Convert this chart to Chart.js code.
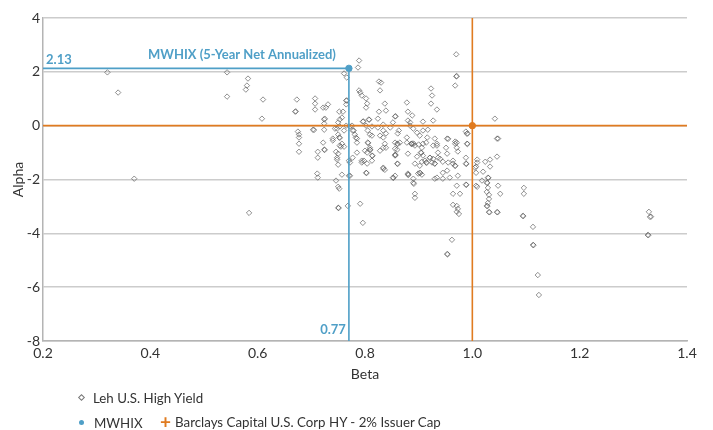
<!DOCTYPE html>
<html>
<head>
<meta charset="utf-8">
<script src="https://cdn.jsdelivr.net/npm/chart.js@4.4.0/dist/chart.umd.min.js"></script>
<style>
  body { margin: 0; background: #fff; font-family: Lato, "Open Sans", sans-serif; }
  #wrap { position: relative; width: 713px; height: 430px; }
  .legend { position: absolute; font-size: 13.3px; color: #333; white-space: nowrap; }
  .legend span { vertical-align: middle; }
  .diamond { display: inline-block; width: 3px; height: 3px; border: 1px solid #777; transform: rotate(45deg); margin-right: 9px; }
  .dot { display: inline-block; width: 5px; height: 5px; border-radius: 50%; background: #4f9fc7; margin-right: 10px; }
  .plus { color: #e07b20; font-size: 19px; font-weight: bold; margin-right: 4px; }
</style>
</head>
<body>
<div id="wrap">
  <canvas id="riskChart" width="713" height="430"></canvas>
  <div class="legend" style="left:79px; top:388px;"><span class="diamond"></span><span>Leh U.S. High Yield</span></div>
  <div class="legend" style="left:79px; top:413px;"><span class="dot"></span><span>MWHIX</span></div>
  <div class="legend" style="left:160px; top:410px;"><span class="plus">+</span><span>Barclays Capital U.S. Corp HY - 2% Issuer Cap</span></div>
</div>
<script>
// peer funds, [beta, alpha]
const hyPoints = [
  [0.32,1.98],[0.34,1.23],[0.37,-1.97],[0.543,1.98],[0.543,1.08],[0.582,1.75],[0.580,1.49],[0.578,1.34],[0.610,0.97],[0.608,0.26],[0.584,-3.24],
  [0.673,0.97],[0.670,0.52],[0.671,0.53],[0.675,-0.22],[0.677,-0.33],[0.677,-0.44],[0.677,-0.67],[0.677,-0.97],
  [0.707,1.01],[0.707,0.82],[0.707,0.60],[0.703,-0.15],[0.705,-0.16],[0.722,0.67],[0.727,0.67],[0.731,0.79],[0.725,0.26],[0.724,0.08],[0.724,-0.15],[0.722,-0.63],[0.724,-0.89],[0.725,-0.90],[0.712,-0.97],[0.712,-1.19],
  [0.740,-0.55],[0.746,-0.97],[0.748,-1.19],[0.750,-1.45],[0.757,-1.82],[0.772,-1.86],[0.772,-1.37],[0.711,-1.78],[0.712,-1.93],[0.746,-2.04],[0.750,-2.27],[0.752,-2.34],
  [0.752,0.52],[0.757,0.30],[0.765,0.93],[0.766,0.94],[0.765,0.79],[0.761,1.94],[0.766,1.79],[0.765,0.0],[0.753,-0.03],[0.748,-0.11],[0.750,-0.33],[0.752,-0.44],[0.753,-0.45],[0.757,-0.67],[0.755,-0.78],[0.761,-0.78],[0.770,-1.30],
  [0.776,0.0],[0.777,-0.18],[0.783,-0.44],[0.785,-1.0],[0.789,2.42],[0.787,2.16],[0.789,1.31],[0.791,1.23],[0.794,1.12],[0.802,1.01],[0.804,0.82],[0.802,0.67],
  [0.826,1.64],[0.830,1.60],[0.828,1.31],[0.837,0.82],[0.839,0.56],[0.826,0.52],[0.824,0.26],[0.834,0.04],[0.759,0.52],[0.753,0.23],[0.750,0.12],[0.724,0.23],[0.744,-0.11],[0.761,-0.18],[0.772,-0.03],
  [0.796,0.15],[0.797,0.16],[0.807,0.23],[0.808,0.22],[0.802,0.0],[0.813,-0.03],[0.824,-0.07],[0.805,-0.18],[0.740,-0.48],[0.781,-0.33],[0.785,-0.48],[0.809,-0.33],[0.828,-0.37],[0.834,-0.18],[0.839,-0.29],
  [0.856,0.34],[0.857,0.35],[0.852,0.12],[0.847,-0.07],[0.863,-0.18],[0.861,-0.29],[0.878,0.86],[0.880,0.52],[0.888,0.38],[0.884,0.12],[0.880,0.19],[0.884,0.0],[0.890,-0.11],[0.897,-0.26],[0.908,-0.18],[0.917,-0.15],[0.908,0.15],[0.927,0.19],[0.902,-0.37],
  [0.923,1.38],[0.925,1.12],[0.923,0.82],[0.934,0.60],[0.930,-0.48],[0.953,-0.48],[0.955,-0.49],[0.970,2.65],[0.970,1.83],[0.971,1.84],[0.968,1.49],[0.988,-0.22],[0.990,-0.30],[0.991,-0.29],
  [1.042,0.26],[1.046,-0.48],[1.048,-0.48],[1.046,-1.15],[0.990,-0.67],[0.991,-0.68],[0.988,-1.41],[0.989,-1.42],[0.988,-1.19],[0.971,-0.82],[0.968,-0.59],[0.973,-0.96],[0.964,-1.41],[0.968,-1.49],
  [0.951,-0.82],[0.953,-1.04],[0.945,-1.34],[0.936,-1.19],[0.930,-1.41],[0.921,-1.19],[0.914,-1.37],[0.915,-1.38],[0.906,-1.34],[0.902,-1.49],[0.902,-1.75],[0.903,-1.76],[0.906,-1.82],[0.893,-1.41],[0.897,-1.15],[0.904,-1.0],[0.905,-1.01],[0.906,-0.82],[0.900,-0.70],[0.908,-0.67],[0.914,-0.63],[0.916,-0.44],
  [0.886,-0.67],[0.887,-0.68],[0.891,-0.67],[0.880,-1.04],[0.878,-0.44],[0.934,-0.74],[0.936,-1.0],[0.865,-0.63],[0.860,-0.67],[0.861,-0.68],[0.860,-0.89],[0.856,-1.08],[0.857,-1.09],[0.860,-1.41],[0.861,-1.42],[0.852,-1.93],[0.853,-1.94],[0.856,-1.86],
  [0.834,-1.56],[0.837,-1.64],[0.834,-0.82],[0.837,-0.67],[0.834,-0.44],[0.813,-0.37],[0.809,-0.82],[0.813,-1.11],[0.814,-1.12],[0.804,-1.0],[0.798,-1.30],[0.794,-1.37],[0.813,-1.30],[0.802,-1.75],[0.803,-1.76],[0.779,-0.18],[0.777,-1.19],[0.770,-1.86],
  [0.880,-1.82],[0.881,-1.83],[0.890,-1.97],[0.891,-2.16],[0.893,-2.53],[0.893,-2.68],[0.930,-1.97],[0.934,-1.93],[0.945,-1.97],[0.958,-1.93],[0.971,-2.23],[0.964,-2.53],[0.977,-2.53],[0.988,-2.19],[0.989,-2.20],
  [1.009,-1.26],[1.007,-1.52],[1.007,-2.23],[1.020,-1.71],[1.024,-1.34],[1.033,-1.26],[1.033,-1.52],[1.029,-1.93],[1.030,-1.94],[1.027,-2.12],[1.028,-2.13],[1.029,-2.31],[1.027,-2.46],[1.031,-2.57],[1.031,-2.72],[1.029,-2.87],[1.027,-2.98],[1.028,-2.99],[1.031,-3.21],[1.032,-3.22],[1.046,-3.21],[1.047,-3.22],[1.048,-2.23],[1.052,-2.53],[1.018,-2.04],[1.009,-2.27],[1.005,-1.56],[1.009,-1.37],[1.007,-1.75],
  [1.096,-2.31],[1.096,-2.53],[1.094,-3.35],[1.095,-3.36],[1.113,-3.76],[1.113,-4.43],[1.114,-4.44],[1.122,-5.55],[1.124,-6.29],
  [0.768,-2.98],[0.750,-3.05],[0.751,-3.06],[0.791,-2.90],[0.796,-3.61],[0.964,-2.94],[0.971,-2.98],[0.973,-3.09],[0.971,-3.20],[0.975,-3.28],[0.962,-4.24],[0.953,-4.77],[0.954,-4.78],
  [1.329,-3.20],[1.331,-3.39],[1.333,-3.38],[1.327,-4.06],[1.328,-4.07],
  [0.856,-0.63],[0.856,-0.86],[0.856,-1.11],[0.878,-0.63],[0.888,-0.67],[0.893,-0.74],[0.927,-0.74],[0.934,-0.67],[0.968,-0.67],[0.971,-0.63],[0.940,-1.23],[0.927,-1.23],[0.921,-1.19],[0.925,-1.37],[0.930,-1.41],[0.908,-1.11],[0.912,-1.30],[0.899,-1.78],[0.968,-1.49],[0.964,-1.30],[0.955,-1.37],[0.953,-1.67],[0.945,-1.75],[0.880,-1.78],[0.890,-2.12],[0.973,-1.86],
  [0.753,-0.74],[0.750,-1.04],[0.748,-1.26],[0.805,-0.63],[0.806,-0.64],[0.785,-0.63],[0.809,-0.89],[0.810,-0.90],[0.800,-0.93],[0.794,-1.30],[0.804,-1.41],[0.828,-0.93],[0.839,-0.82],[0.834,-1.60]
];

const fundBeta = 0.77;
const fundAlpha = 2.13;
const benchBeta = 1.0;
const benchAlpha = 0.0;

const betaMin = 0.2, betaMax = 1.4, betaStep = 0.2;
const alphaMin = -8, alphaMax = 4, alphaStep = 2;

const blue = '#4f9fc7';
const orange = '#e07b20';

// text next to the fund marker and its crosshair
const labelsPlugin = {
    id: 'fundLabels',
    afterDatasetsDraw(chart) {
        const ctx = chart.ctx;
        const xs = chart.scales.x, ys = chart.scales.y;
        const px = xs.getPixelForValue(fundBeta);
        const py = ys.getPixelForValue(fundAlpha);
        ctx.save();
        ctx.fillStyle = blue;
        ctx.font = 'bold 13px Lato, "Open Sans", sans-serif';
        ctx.textBaseline = 'middle';
        ctx.textAlign = 'right';
        ctx.fillText('MWHIX (5-Year Net Annualized)', px - 13, py - 14);
        ctx.fillText(fundBeta.toFixed(2), px - 3, ys.bottom - 11);
        ctx.textAlign = 'left';
        ctx.fillText(fundAlpha.toFixed(2), xs.left + 3, py - 9);
        ctx.restore();
    }
};

const chart = new Chart(document.getElementById('riskChart'), {
    type: 'scatter',
    data: {
        datasets: [
            {
                label: 'MWHIX',
                data: [{ x: fundBeta, y: fundAlpha }],
                pointStyle: 'circle',
                pointRadius: 3.2,
                backgroundColor: blue,
                borderColor: blue,
                order: 0
            },
            {
                label: 'Barclays Capital U.S. Corp HY - 2% Issuer Cap',
                data: [{ x: benchBeta, y: benchAlpha }],
                pointStyle: 'circle',
                pointRadius: 3.2,
                backgroundColor: orange,
                borderColor: orange,
                order: 0
            },
            {
                label: 'fund lines',
                data: [{ x: betaMin, y: fundAlpha }, { x: fundBeta, y: fundAlpha }, { x: fundBeta, y: alphaMin }],
                showLine: true,
                pointRadius: 0,
                borderColor: blue,
                borderWidth: 1.6,
                order: 1
            },
            {
                label: 'bench h',
                data: [{ x: betaMin, y: benchAlpha }, { x: betaMax, y: benchAlpha }],
                showLine: true,
                pointRadius: 0,
                borderColor: orange,
                borderWidth: 1.8,
                order: 1
            },
            {
                label: 'bench v',
                data: [{ x: benchBeta, y: alphaMin }, { x: benchBeta, y: alphaMax }],
                showLine: true,
                pointRadius: 0,
                borderColor: orange,
                borderWidth: 1.6,
                order: 1
            },
            {
                label: 'Leh U.S. High Yield',
                data: hyPoints.map(p => ({ x: p[0], y: p[1] })),
                pointStyle: 'rectRot',
                pointRadius: 2.7,
                borderWidth: 0.8,
                borderColor: 'rgba(90,90,90,0.85)',
                backgroundColor: 'rgba(255,255,255,0)',
                order: 2
            }
        ]
    },
    options: {
        responsive: false,
        animation: false,
        layout: { padding: { top: 18, right: 26, bottom: 47, left: 0 } },
        plugins: {
            legend: { display: false },
            tooltip: { enabled: false }
        },
        scales: {
            x: {
                type: 'linear',
                min: betaMin,
                max: betaMax,
                ticks: {
                    stepSize: betaStep,
                    padding: 4,
                    color: '#333',
                    font: { size: 14, family: 'Lato' },
                    callback: v => v.toFixed(1)
                },
                grid: { display: false, drawTicks: false },
                border: { display: true, color: '#b4b4b4', width: 1.5 },
                title: { display: true, text: 'Beta', color: '#333', font: { size: 14, family: 'Lato' }, padding: { top: 4, bottom: 0 } },
                afterFit: s => { s.height = 42; }
            },
            y: {
                type: 'linear',
                min: alphaMin,
                max: alphaMax,
                ticks: {
                    stepSize: alphaStep,
                    padding: 3,
                    color: '#333',
                    font: { size: 14, family: 'Lato' }
                },
                grid: { color: '#cccccc', lineWidth: 1.5, drawTicks: false },
                border: { display: true, color: '#b4b4b4', width: 1.5 },
                title: { display: true, text: 'Alpha', color: '#333', font: { size: 14, family: 'Lato' }, padding: { top: 10, bottom: 4 } },
                afterFit: s => { s.width = 43; }
            }
        }
    },
    plugins: [labelsPlugin]
});
</script>
</body>
</html>
